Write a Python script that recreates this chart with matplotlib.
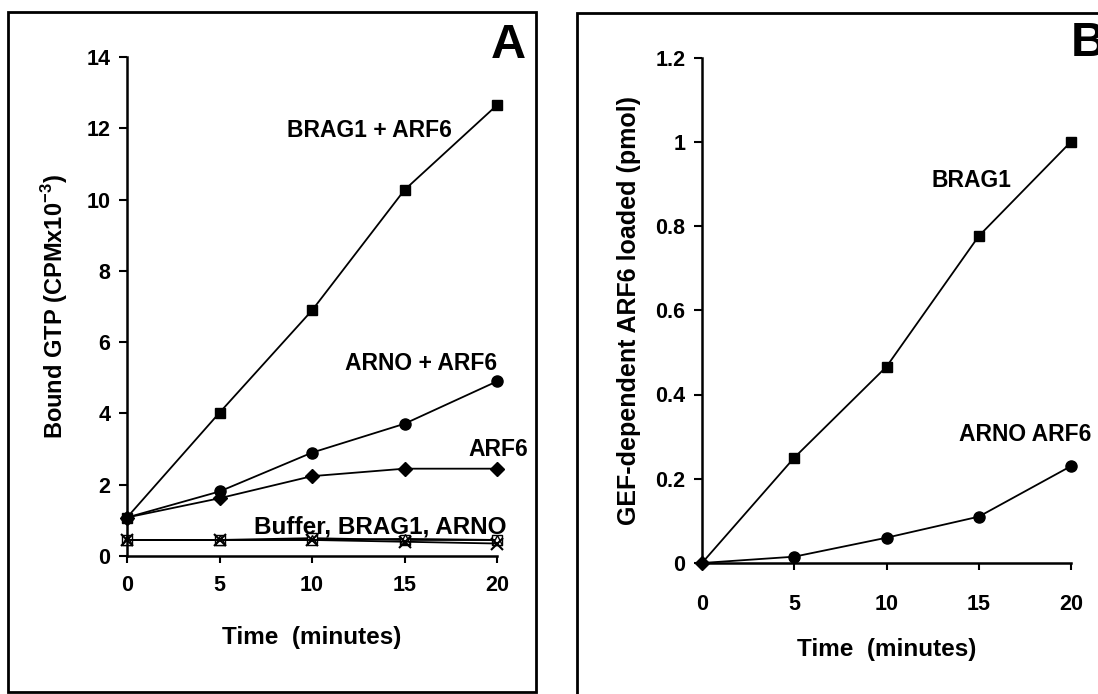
import numpy as np
from matplotlib import pyplot as plt
from matplotlib.patches import Rectangle

plt.rcParams['font.family'] = ['Liberation Sans', 'DejaVu Sans']
plt.rcParams['font.weight'] = 'bold'
plt.rcParams['mathtext.fontset'] = 'custom'
plt.rcParams['mathtext.rm'] = 'Liberation Sans:bold'
plt.rcParams['mathtext.bf'] = 'Liberation Sans:bold'

# time points (minutes)
time = [0, 5, 10, 15, 20]

# panel A: bound GTP (CPM x 10^-3)
brag1_arf6 = [1.08, 4.02, 6.89, 10.27, 12.65]
arno_arf6 = [1.08, 1.81, 2.90, 3.71, 4.90]
arf6 = [1.08, 1.62, 2.24, 2.45, 2.45]
buffer = [0.45, 0.45, 0.50, 0.45, 0.45]
brag1_only = [0.45, 0.45, 0.45, 0.40, 0.35]
arno_only = [0.45, 0.45, 0.45, 0.48, 0.45]

# panel B: GEF-dependent ARF6 loaded (pmol)
b_brag1 = [0.0, 0.25, 0.466, 0.776, 1.0]
b_arno = [0.0, 0.015, 0.06, 0.11, 0.23]

fig = plt.figure(figsize=(10.98, 6.94), dpi=100)

# panel frames
fig.patches.append(Rectangle((8/1098, 1 - 692/694), 528/1098, 680/694, transform=fig.transFigure,
                             fill=False, lw=2, ec='black'))
fig.patches.append(Rectangle((577/1098, -0.05), 0.6, 1 - 13/694 + 0.05, transform=fig.transFigure,
                             fill=False, lw=2, ec='black', clip_on=False))


def style(ax, ymax, ystep, xpad, fmt):
    ax.spines['top'].set_visible(False)
    ax.spines['right'].set_visible(False)
    ax.spines['left'].set_linewidth(1.8)
    ax.spines['bottom'].set_linewidth(1.8)
    ax.set_xlim(0, 20)
    ax.set_ylim(0, ymax)
    ax.set_xticks(time)
    yt = np.arange(0, ymax + ystep / 2, ystep)
    ax.set_yticks(yt)
    ax.set_yticklabels([fmt(v) for v in yt])
    ax.tick_params(axis='x', direction='out', length=5, width=1.5, pad=xpad, labelsize=15.5)
    ax.tick_params(axis='y', direction='out', length=6, width=1.5, pad=6, labelsize=15.5)
    for lab in ax.get_xticklabels() + ax.get_yticklabels():
        lab.set_fontweight('bold')


# ---- panel A
axA = fig.add_axes([127/1098, 1 - 556/694, 370/1098, 499/694])
kw = dict(color='black', lw=1.3, clip_on=False)
axA.plot(time, buffer, marker='s', ms=7, mfc='white', mec='black', **kw)
axA.plot(time, arno_only, marker='^', ms=7, mfc='white', mec='black', **kw)
axA.plot(time, brag1_only, marker='x', ms=8, mew=1.5, **kw)
axA.plot(time, arf6, marker='D', ms=7, **kw)
axA.plot(time, arno_arf6, marker='o', ms=8, **kw)
axA.plot(time, brag1_arf6, marker='s', ms=7.5, **kw)
style(axA, 14, 2, 9, lambda v: '%d' % v)
axA.set_xlabel('Time  (minutes)', fontsize=17.5, fontweight='bold', labelpad=21)
axA.set_ylabel(r'Bound GTP (CPMx10$^{-3}$)', fontsize=17, fontweight='bold', labelpad=12)

lab_kw = dict(fontsize=16.5, fontweight='bold', ha='center', va='center')
axA.text(13.1, 11.95, 'BRAG1 + ARF6', **lab_kw)
axA.text(15.9, 5.39, 'ARNO + ARF6', **lab_kw)
axA.text(20.05, 3.0, 'ARF6', **lab_kw)
axA.text(13.7, 0.82, 'Buffer, BRAG1, ARNO', fontsize=17.5, fontweight='bold', ha='center', va='center')
fig.text(508/1098, 1 - 46/694, 'A', fontsize=35, fontweight='bold', ha='center', va='center')

# ---- panel B
axB = fig.add_axes([702/1098, 1 - 563/694, 369/1098, 505.5/694])
axB.plot(time, b_brag1, marker='s', ms=7.5, markevery=slice(1, None), **kw)
axB.plot(time, b_arno, marker='o', ms=8, markevery=slice(1, None), **kw)
axB.plot(time[:1], b_brag1[:1], marker='D', ms=7, ls='none', color='black', clip_on=False)
style(axB, 1.2, 0.2, 17, lambda v: '0' if v == 0 else ('1' if abs(v - 1) < 1e-9 else '%.1f' % v))
axB.set_xlabel('Time  (minutes)', fontsize=17.5, fontweight='bold', labelpad=17)
axB.set_ylabel('GEF-dependent ARF6 loaded (pmol)', fontsize=18, fontweight='bold', labelpad=10)

axB.text(14.6, 0.907, 'BRAG1', **lab_kw)
axB.text(17.5, 0.305, 'ARNO ARF6', **lab_kw)
fig.text(1088/1098, 1 - 43/694, 'B', fontsize=35, fontweight='bold', ha='center', va='center')

plt.savefig('out.png', dpi=100)
